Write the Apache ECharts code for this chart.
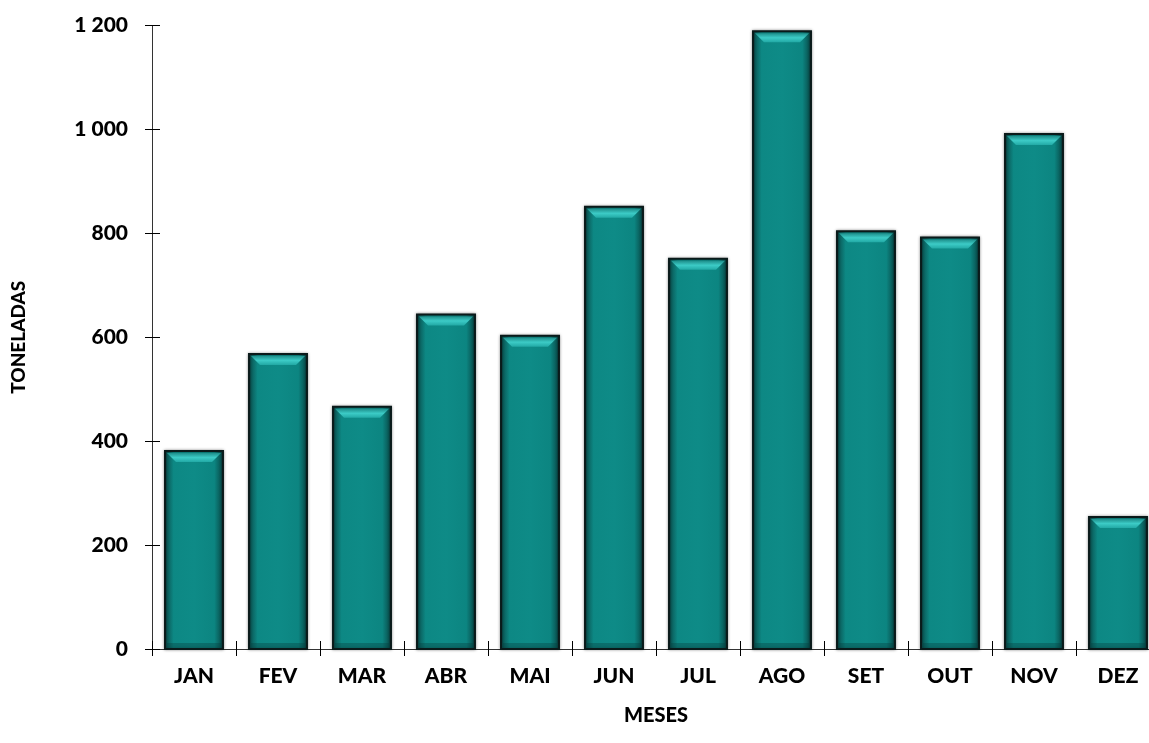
<!DOCTYPE html>
<html>
<head>
<meta charset="utf-8">
<script src="https://cdn.jsdelivr.net/npm/echarts@6/dist/echarts.min.js"></script>
<style>
html,body{margin:0;padding:0;background:#fff;overflow:hidden;}
#chart{width:1149px;height:743px;}
</style>
</head>
<body>
<div id="chart"></div>
<script>
const categories = ['JAN','FEV','MAR','ABR','MAI','JUN','JUL','AGO','SET','OUT','NOV','DEZ'];
const values = [381, 568, 466, 644, 603, 851, 751, 1189, 804, 792, 991, 254];
const yTicks = [0, 200, 400, 600, 800, 1000, 1200];
const xAxisTitle = 'MESES';
const yAxisTitle = 'TONELADAS';

const FONT = 'Lato';
const WEIGHT = 900;
const fmt = v => String(v).replace(/\B(?=(\d{3})+(?!\d))/g, ' ');

const chart = echarts.init(document.getElementById('chart'), null, {renderer: 'canvas'});

function renderBar(params, api) {
  const i = api.value(0), v = api.value(1);
  const base = api.coord([i, 0]);
  const top = api.coord([i, v]);
  const w = api.size([1, 0])[0] * 0.69;
  const x0 = base[0] - w / 2;
  const h = base[1] - top[1];
  const bev = 11;
  return {
    type: 'group',
    children: [
      {
        type: 'rect',
        shape: {x: x0, y: top[1], width: w, height: h},
        style: {
          fill: new echarts.graphic.LinearGradient(0, 0, 1, 0, [
            {offset: 0, color: '#0a2f2f'},
            {offset: 0.06, color: '#0b5f5d'},
            {offset: 0.16, color: '#0d8884'},
            {offset: 0.5, color: '#0e8b87'},
            {offset: 0.84, color: '#0c8581'},
            {offset: 0.94, color: '#0a5a58'},
            {offset: 1, color: '#082828'}
          ]),
          stroke: '#0a1a1a',
          lineWidth: 2,
          shadowColor: 'rgba(0,0,0,0.35)',
          shadowBlur: 3
        }
      },
      {
        type: 'polygon',
        shape: {points: [
          [x0 + 2, top[1] + 2], [x0 + w - 2, top[1] + 2],
          [x0 + w - bev, top[1] + bev], [x0 + bev, top[1] + bev]
        ]},
        style: {
          fill: new echarts.graphic.LinearGradient(0, 0, 0, 1, [
            {offset: 0, color: '#1e8f8b'},
            {offset: 0.5, color: '#3ccbc6'},
            {offset: 1, color: '#22a9a5'}
          ])
        }
      },
      {
        type: 'rect',
        shape: {x: x0 + 2, y: base[1] - 6, width: w - 4, height: 5},
        style: {fill: 'rgba(5,60,60,0.35)'}
      }
    ]
  };
}

const axisLabelStyle = {fontFamily: FONT, fontWeight: WEIGHT, fontSize: 21, color: '#000'};

const option = {
  backgroundColor: '#fff',
  animation: false,
  grid: {left: 152, top: 25.5, width: 1008, height: 623.5, containLabel: false, outerBoundsMode: 'none'},
  xAxis: [
    {
      type: 'category', data: categories, boundaryGap: true,
      axisLine: {show: true, lineStyle: {color: '#333', width: 1}},
      axisTick: {show: true, inside: false, length: 7, lineStyle: {color: '#000'}},
      axisLabel: Object.assign({margin: 17}, axisLabelStyle),
      splitLine: {show: false},
      name: xAxisTitle, nameLocation: 'middle', nameGap: 57,
      nameTextStyle: {fontFamily: FONT, fontWeight: WEIGHT, fontSize: 20, color: '#000'}
    },
    {
      type: 'category', data: categories, boundaryGap: true, position: 'bottom',
      axisLine: {show: false},
      axisTick: {show: true, inside: true, length: 8, lineStyle: {color: '#000'}},
      axisLabel: {show: false},
      splitLine: {show: false}
    }
  ],
  yAxis: [
    {
      type: 'value', min: 0, max: 1200, interval: 200,
      axisLine: {show: true, lineStyle: {color: '#333', width: 1}},
      axisTick: {show: true, inside: false, length: 7, lineStyle: {color: '#000'}},
      axisLabel: Object.assign({margin: 24, formatter: v => yTicks.includes(v) ? fmt(v) : ''}, axisLabelStyle),
      splitLine: {show: false},
      name: yAxisTitle, nameLocation: 'middle', nameGap: 124, nameRotate: 90,
      nameTextStyle: {fontFamily: FONT, fontWeight: WEIGHT, fontSize: 19, color: '#000'}
    },
    {
      type: 'value', min: 0, max: 1200, interval: 200, position: 'left',
      axisLine: {show: false},
      axisTick: {show: true, inside: true, length: 8, lineStyle: {color: '#000'}},
      axisLabel: {show: false},
      splitLine: {show: false}
    }
  ],
  series: [
    {
      type: 'custom',
      xAxisIndex: 0, yAxisIndex: 0,
      renderItem: renderBar,
      encode: {x: 0, y: 1},
      data: values.map((v, i) => [i, v]),
      clip: false
    }
  ]
};
chart.setOption(option);
</script>
</body>
</html>
